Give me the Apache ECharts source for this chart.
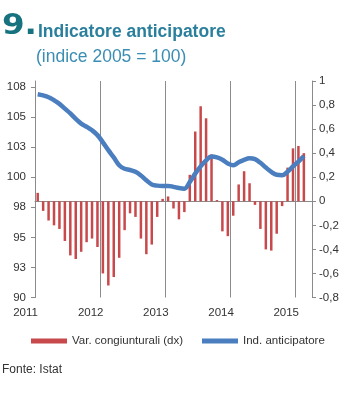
<!DOCTYPE html>
<html><head><meta charset="utf-8">
<script src="https://cdn.jsdelivr.net/npm/echarts@6/dist/echarts.min.js"></script>
<style>html,body{margin:0;padding:0;background:#fff}#c{width:347px;height:400px}</style>
</head><body><div id="c"></div>
<script>
// Categories: months (Jan 2011 – Feb 2015)
const months = [
 '2011-01','2011-02','2011-03','2011-04','2011-05','2011-06','2011-07','2011-08','2011-09','2011-10','2011-11','2011-12',
 '2012-01','2012-02','2012-03','2012-04','2012-05','2012-06','2012-07','2012-08','2012-09','2012-10','2012-11','2012-12',
 '2013-01','2013-02','2013-03','2013-04','2013-05','2013-06','2013-07','2013-08','2013-09','2013-10','2013-11','2013-12',
 '2014-01','2014-02','2014-03','2014-04','2014-05','2014-06','2014-07','2014-08','2014-09','2014-10','2014-11','2014-12',
 '2015-01','2015-02'];
// Var. congiunturali (dx) – right axis
const varCong = [
 0.07,-0.08,-0.16,-0.20,-0.23,-0.33,-0.45,-0.48,-0.42,-0.34,-0.31,-0.38,
 -0.60,-0.70,-0.63,-0.47,-0.24,-0.10,-0.13,-0.31,-0.44,-0.36,-0.13,0.02,
 0.04,-0.06,-0.15,-0.09,0.22,0.58,0.79,0.69,0.39,0.01,-0.25,-0.29,
 -0.12,0.14,0.25,0.15,-0.03,-0.23,-0.40,-0.41,-0.27,-0.04,0.28,0.44,
 0.46,0.40];
// Ind. anticipatore – left axis
const indAnt = [
 106.9,106.8,106.65,106.4,106.1,105.7,105.3,104.85,104.45,104.2,103.9,103.5,
 102.9,102.25,101.65,101.0,100.7,100.6,100.45,100.15,99.75,99.4,99.3,99.27,
 99.28,99.2,99.1,99.05,99.6,100.3,100.9,101.4,101.72,101.65,101.45,101.15,
 101.0,101.25,101.45,101.57,101.5,101.2,100.8,100.45,100.2,100.17,100.45,100.9,
 101.3,101.75];
const yearTicks = [2011, 2012, 2013, 2014, 2015];

const FONT = "'Liberation Sans', Arial, sans-serif";
const pos = months.map(m => { const [y, mo] = m.split('-').map(Number); return y + (mo - 0.5) / 12; });
const barData = pos.map((x, i) => [x, varCong[i]]);
const lineData = pos.map((x, i) => [x, indAnt[i]]);
const axisGray = '#8a8a8a';

const chart = echarts.init(document.getElementById('c'), null, {renderer: 'canvas'});
chart.setOption({
  animation: false,
  backgroundColor: '#fff',
  grid: {left: 35, right: 35, top: 81, bottom: 102.5, containLabel: false},
  graphic: [
    {type: 'text', left: 2, top: 12, scaleX: 1.12, style: {text: '9.', font: "bold 29px 'DejaVu Sans', sans-serif", fill: '#17727f'}},
    {type: 'text', left: 38, top: 23, style: {text: 'Indicatore anticipatore', font: "bold 17.5px " + FONT, fill: '#2a7f9c'}},
    {type: 'text', left: 36, top: 48, style: {text: '(indice 2005 = 100)', font: "17.5px " + FONT, fill: '#3a8db3'}},
    {type: 'text', left: 2, top: 364, style: {text: 'Fonte: Istat', font: "12px " + FONT, fill: '#333'}}
  ],
  legend: {
    left: 31, top: 335, padding: 0, itemWidth: 36, itemHeight: 5, itemGap: 19,
    textStyle: {fontFamily: FONT, fontSize: 11.5, color: '#333'},
    data: [{name: 'Var. congiunturali (dx)', icon: 'rect'}, {name: 'Ind. anticipatore', icon: 'rect'}]
  },
  xAxis: {
    type: 'value', min: 2011, max: 2015.25, interval: 1,
    axisLine: {show: true, lineStyle: {color: axisGray, width: 1}},
    axisTick: {show: true, length: 4, lineStyle: {color: axisGray}},
    splitLine: {show: true, lineStyle: {color: '#8c8c8c', width: 1}},
    axisLabel: {showMaxLabel: false, margin: 9, fontFamily: FONT, fontSize: 11.5, color: '#333',
      padding: [0, 19, 0, 0], formatter: v => yearTicks.includes(Math.round(v)) ? String(Math.round(v)) : ''}
  },
  yAxis: [
    {type: 'value', min: 90, max: 108, interval: 2.5, position: 'left',
     axisLine: {show: true, lineStyle: {color: axisGray}},
     axisTick: {show: true, length: 4, lineStyle: {color: axisGray}},
     splitLine: {show: false},
     axisLabel: {showMaxLabel: false, margin: 9, fontFamily: FONT, fontSize: 11.5, color: '#333',
       formatter: v => String(Math.round(v))}},
    {type: 'value', min: -0.8, max: 1, interval: 0.2, position: 'right',
     axisLine: {show: true, lineStyle: {color: axisGray}},
     axisTick: {show: true, length: 4, lineStyle: {color: axisGray}},
     splitLine: {show: false},
     axisLabel: {margin: 7, fontFamily: FONT, fontSize: 11.5, color: '#333',
       formatter: v => String(Math.round(v * 10) / 10).replace('.', ',')}}
  ],
  series: [
    {name: 'Var. congiunturali (dx)', type: 'bar', yAxisIndex: 1, data: barData, barWidth: 2.5,
     itemStyle: {color: '#c8494b'}},
    {name: 'Ind. anticipatore', type: 'line', yAxisIndex: 0, data: lineData, smooth: 0.4,
     symbol: 'none', lineStyle: {color: '#4a7ebf', width: 4.5}, itemStyle: {color: '#4a7ebf'}}
  ]
});
</script></body></html>
